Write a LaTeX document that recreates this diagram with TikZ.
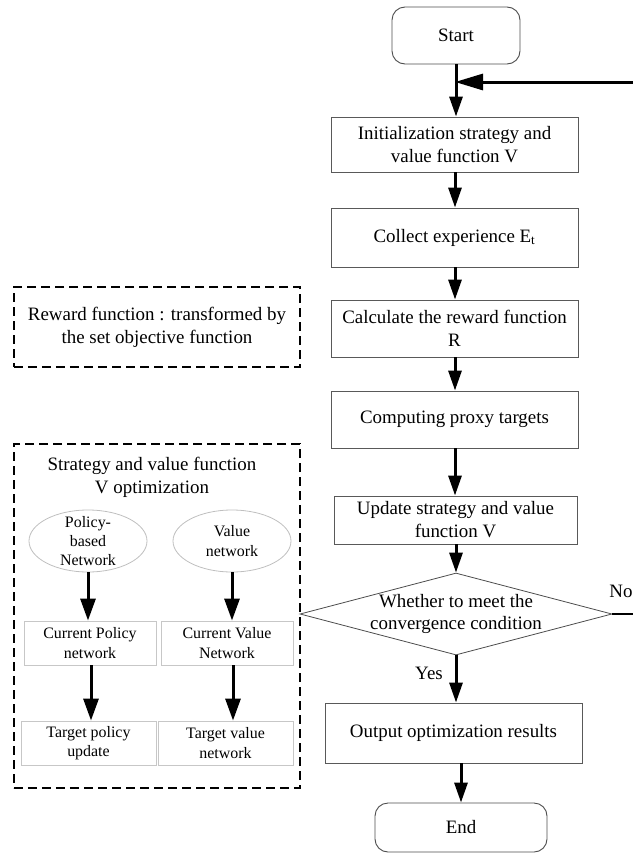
\documentclass[tikz,border=0pt]{standalone}
\usepackage{fontspec}
\setmainfont{Liberation Serif}
\usetikzlibrary{arrows.meta,shapes.geometric}

\begin{document}
\begin{tikzpicture}[x=1bp,y=-1bp,
    flow/.style={line width=3bp,-{Triangle[length=20bp,width=13bp]}},
    subflow/.style={line width=3bp,-{Triangle[length=22bp,width=15bp]}},
    loopflow/.style={line width=3bp,-{Triangle[length=28bp,width=16bp]},shorten >=-1bp},
    maintext/.style={align=center,font=\fontsize{19}{23}\selectfont,inner sep=0pt},
    smalltext/.style={align=center,font=\fontsize{16}{19.5}\selectfont,inner sep=0pt},
    procbox/.style={maintext,draw=black!65,line width=0.9bp,minimum width=247bp},
    termbox/.style={maintext,draw=black!70,line width=0.9bp,rounded corners=13bp},
    decbox/.style={diamond,draw=black!70,line width=0.8bp,inner sep=0pt,minimum width=312bp,minimum height=82bp},
    dashbox/.style={maintext,draw=black,line width=1.4bp,dash pattern=on 9bp off 5bp},
    subbox/.style={smalltext,draw=black!22,line width=0.9bp},
    netell/.style={ellipse,draw=black!25,line width=0.8bp,inner sep=0pt,minimum width=118bp,minimum height=62bp}]

    \useasboundingbox (0,0) rectangle (633,856);

    % x of the main arrows
    \coordinate (trunk) at (455,0);

    % Main flow
    \node[termbox,minimum width=128bp,minimum height=57bp] (start) at (456,35.5) {Start};
    \node[procbox,minimum height=55bp] (init) at (454.5,144.5) {Initialization strategy and\\value function V};
    \node[procbox,minimum height=59bp] (collect) at (454.5,237.5) {Collect experience E\textsubscript{t}};
    \node[procbox,minimum height=57bp] (calc) at (454.5,328.5) {Calculate the reward function\\R};
    \node[procbox,minimum height=57bp] (proxy) at (454.5,419.5) {Computing proxy targets};
    \node[procbox,minimum width=243bp,minimum height=48bp] (update) at (455.5,520) {Update strategy and value\\function V};
    \node[decbox] (dec) at (456,614) {};
    \node[maintext] (dectext) at (dec.center) {Whether to meet the\\convergence condition};
    \node[procbox,minimum width=257bp,minimum height=60bp] (output) at (453.5,733) {Output optimization results};
    \node[termbox,minimum width=172bp,minimum height=49bp] (end) at (461,827.5) {End};

    % Arrows of the main flow
    \draw[flow] (start.south) -- (start.south |- init.north);
    \draw[flow] (init.south -| trunk) -- (collect.north -| trunk);
    \draw[flow] (collect.south -| trunk) -- (calc.north -| trunk);
    \draw[flow] (calc.south -| trunk) -- (proxy.north -| trunk);
    \draw[flow] (proxy.south -| trunk) -- (update.north -| trunk);
    \draw[flow] (update.south -| dec.north) -- (dec.north);
    \draw[flow] (dec.south) -- (dec.south |- output.north);
    \draw[flow] (output.south -| end.north) -- (end.north);

    \node[maintext] (yes) at (429,673) {Yes};
    \node[maintext] (no) at (621,591) {No};

    % Loop back (runs out of the picture on the right)
    \coordinate (noout) at (633,614);
    \coordinate (backin) at (633,82);
    \coordinate (join) at (start.south |- backin);
    \draw[line width=2bp] (dec.east) -- (noout);
    \draw[loopflow] (backin) -- (join);

    % Reward note
    \node[dashbox,minimum width=286bp,minimum height=80bp] (reward) at (157,327) {Reward function : transformed by\\the set objective function};

    % Optimization panel
    \node[dashbox,minimum width=286bp,minimum height=344bp] (optbox) at (157,616) {};
    \node[maintext] (opttitle) at (152,477.5) {Strategy and value function\\V optimization};

    \node[netell] (polnet) at (88,541) {};
    \node[smalltext] (poltext) at (polnet.center) {Policy-\\based\\Network};
    \node[netell] (valnet) at (232,541) {};
    \node[smalltext] (valtext) at (valnet.center) {Value\\network};

    \node[subbox,minimum width=132bp,minimum height=44bp] (curpol) at (90,643) {Current Policy\\network};
    \node[subbox,minimum width=132bp,minimum height=44bp] (curval) at (227,643) {Current Value\\Network};
    \node[subbox,minimum width=135bp,minimum height=44bp] (tarpol) at (88.5,743) {Target policy\\update};
    \node[subbox,minimum width=135bp,minimum height=44bp] (tarval) at (225.5,743) {Target value\\network};

    \draw[subflow] (polnet.south) -- (polnet.south |- curpol.north);
    \draw[subflow] (valnet.south) -- (valnet.south |- curval.north);
    \draw[subflow] (curpol.south -| 91,0) -- (tarpol.north -| 91,0);
    \draw[subflow] (curval.south -| 233,0) -- (tarval.north -| 233,0);

\end{tikzpicture}
\end{document}
